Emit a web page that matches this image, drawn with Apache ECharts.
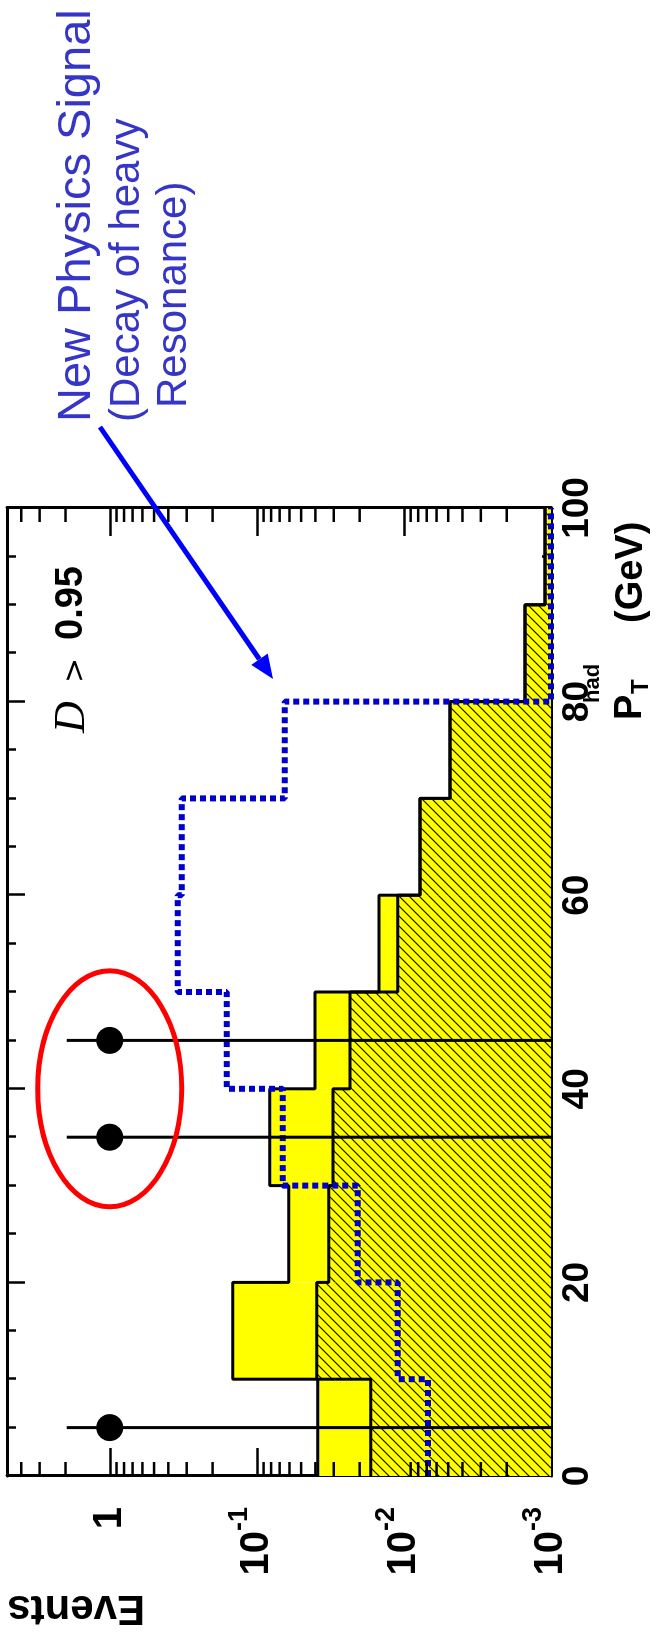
<!DOCTYPE html>
<html>
<head>
<meta charset="utf-8">
<script src="https://cdn.jsdelivr.net/npm/echarts@6/dist/echarts.min.js"></script>
<style>
  html, body { margin: 0; padding: 0; background: #fff; overflow: hidden; width: 663px; height: 1637px; }
  /* The plot is laid out landscape and turned a quarter turn counter-clockwise. */
  #chart { position: absolute; left: 0; top: 0; width: 1637px; height: 663px;
           transform-origin: 0 0; transform: translateY(1637px) rotate(-90deg); }
</style>
</head>
<body>
<div id="chart"></div>
<script>
// P_T^had bins (GeV)
const binEdges = [0, 10, 20, 30, 40, 50, 60, 70, 80, 90, 100];
// total background (solid yellow) per bin
const totalBackground = [0.0385, 0.146, 0.0606, 0.0816, 0.0403, 0.0148, 0.00778, 0.00486, 0.00150, 0.00110];
// hatched background component per bin
const hatchedBackground = [0.0168, 0.0391, 0.0324, 0.0304, 0.0233, 0.0110, 0.00778, 0.00486, 0.00150, 0.00110];
// new physics signal (heavy resonance decay) per bin
const signal = [0.00687, 0.0110, 0.0206, 0.0666, 0.160, 0.345, 0.324, 0.0645, 0, 0];
// observed events
const dataX = [5, 35, 45];
const dataY = [1, 1, 1];
const dataErrHigh = [1.96, 1.96, 1.96];
const dataErrLow = [0, 0, 0];
// centre of the highlighted pair of events
const circledCenter = [40, 1];

const Y_MIN = 0.001, Y_MAX = 5;
const FONT = '"Liberation Sans", Arial, sans-serif';
const floorY = v => Math.max(v, Y_MIN);

// hatch pattern: yellow with thin black diagonals
const hatch = document.createElement('canvas');
hatch.width = 10; hatch.height = 10;
(function () {
  const c = hatch.getContext('2d');
  c.fillStyle = '#ffff00'; c.fillRect(0, 0, 10, 10);
  c.strokeStyle = '#000'; c.lineWidth = 1.1;
  c.beginPath();
  c.moveTo(-2, 12); c.lineTo(12, -2);
  c.moveTo(-2, 2); c.lineTo(2, -2);
  c.moveTo(8, 12); c.lineTo(12, 8);
  c.stroke();
})();

function histFill(values, fill) {
  return {
    type: 'custom', silent: true, clip: false, z: 2,
    data: values.map((v, i) => [binEdges[i], floorY(v), binEdges[i + 1]]),
    renderItem(params, api) {
      const p0 = api.coord([api.value(0), api.value(1)]);
      const p1 = api.coord([api.value(2), Y_MIN]);
      return { type: 'rect',
        shape: { x: p0[0], y: p0[1], width: p1[0] - p0[0], height: p1[1] - p0[1] },
        style: { fill: fill } };
    }
  };
}
function stepData(values) {
  const pts = values.map((v, i) => [binEdges[i], floorY(v)]);
  pts.push([binEdges[binEdges.length - 1], floorY(values[values.length - 1])]);
  return pts;
}
function histOutline(values, lineStyle, z) {
  return { type: 'line', step: 'end', symbol: 'none', silent: true, clip: false, z: z,
    data: stepData(values), lineStyle: lineStyle };
}

// minor decade ticks 2..9 x 10^n for the log axis
const minorLogValues = [];
for (let e = -3; e <= 0; e++) for (let k = 2; k <= 9; k++) {
  const v = k * Math.pow(10, e);
  if (v < Y_MAX) minorLogValues.push(v);
}

const tickLine = { color: '#000', width: 2.5 };
const axisLine = { show: true, onZero: false, lineStyle: { color: '#000', width: 3 } };

function xAxisDef(pos, labels) {
  return { type: 'value', min: 0, max: 100, interval: 20, position: pos,
    axisLine: axisLine,
    axisTick: { show: true, inside: true, length: 18, lineStyle: tickLine },
    minorTick: { show: true, splitNumber: 4, length: 9, lineStyle: tickLine },
    axisLabel: { show: labels, margin: 8, fontSize: 37, fontWeight: 'bold', fontFamily: FONT, color: '#000' },
    splitLine: { show: false }, minorSplitLine: { show: false } };
}
function yAxisDef(pos, labels) {
  return { type: 'log', logBase: 10, min: Y_MIN, max: Y_MAX, position: pos,
    axisLine: axisLine,
    axisTick: { show: true, inside: true, length: 28, lineStyle: tickLine },
    axisLabel: { show: labels, margin: 31,
      formatter: v => {
        const l = Math.log10(v), e = Math.round(l);
        if (Math.abs(l - e) > 1e-6) return '';
        return e === 0 ? '{m|1}' : '{m|10}{s|' + e + '}';
      },
      rich: {
        m: { fontSize: 40, fontWeight: 'bold', fontFamily: FONT, color: '#000', verticalAlign: 'middle' },
        s: { fontSize: 27, fontWeight: 'bold', fontFamily: FONT, color: '#000', padding: [0, 0, 35, 0] }
      } },
    splitLine: { show: false } };
}

function txt(x, y, text, font, fill, extra) {
  return Object.assign({ type: 'text', x: x, y: y, z: 100,
    style: { text: text, font: font, fill: fill || '#000',
      align: 'left', verticalAlign: 'middle', textAlign: 'left', textVerticalAlign: 'middle' } }, extra || {});
}

// arrow from the annotation to the signal peak
const arrowFrom = [1210, 100], arrowTip = [958, 273];
const ad = [arrowTip[0] - arrowFrom[0], arrowTip[1] - arrowFrom[1]];
const al = Math.hypot(ad[0], ad[1]);
const au = [ad[0] / al, ad[1] / al];
const headLen = 24, headHalf = 10;
const headBase = [arrowTip[0] - au[0] * headLen, arrowTip[1] - au[1] * headLen];

const chart = echarts.init(document.getElementById('chart'), null, { renderer: 'canvas' });
chart.setOption({
  animation: false,
  backgroundColor: '#fff',
  grid: { left: 161, top: 7, width: 968, height: 544, containLabel: false, outerBoundsMode: 'none' },
  xAxis: [xAxisDef('bottom', true), xAxisDef('top', false)],
  yAxis: [yAxisDef('left', true), yAxisDef('right', false)],
  series: [
    histFill(totalBackground, '#ffff00'),
    histFill(hatchedBackground, { image: hatch, repeat: 'repeat' }),
    histOutline(totalBackground, { color: '#000', width: 3 }, 4),
    histOutline(hatchedBackground, { color: '#000', width: 3 }, 4),
    histOutline(signal, { color: '#0000cc', width: 6, type: [6, 4], cap: 'butt' }, 6),
    { // error bars of the observed events
      type: 'custom', silent: true, clip: false, z: 7,
      data: dataX.map((x, i) => [x, dataErrHigh[i], floorY(dataErrLow[i])]),
      renderItem(params, api) {
        const a = api.coord([api.value(0), api.value(1)]);
        const b = api.coord([api.value(0), api.value(2)]);
        return { type: 'line', shape: { x1: a[0], y1: a[1], x2: b[0], y2: b[1] },
          style: { stroke: '#000', lineWidth: 3 } };
      }
    },
    { type: 'scatter', silent: true, z: 8, symbol: 'circle', symbolSize: 27,
      itemStyle: { color: '#000', opacity: 1 },
      data: dataX.map((x, i) => [x, dataY[i]]) },
    { // minor ticks of the log axis on both sides
      type: 'custom', silent: true, clip: false, z: 9,
      data: minorLogValues.map(v => [0, v]),
      renderItem(params, api) {
        const a = api.coord([0, api.value(1)]);
        const b = api.coord([100, api.value(1)]);
        const s = { stroke: '#000', lineWidth: 2.5 };
        return { type: 'group', children: [
          { type: 'line', shape: { x1: a[0], y1: a[1], x2: a[0] + 14, y2: a[1] }, style: s },
          { type: 'line', shape: { x1: b[0] - 14, y1: b[1], x2: b[0], y2: b[1] }, style: s }
        ] };
      }
    },
    { // red ring around the two high-P_T events
      type: 'custom', silent: true, clip: false, z: 9,
      data: [circledCenter],
      renderItem(params, api) {
        const c = api.coord([api.value(0), api.value(1)]);
        return { type: 'ellipse', shape: { cx: c[0], cy: c[1], rx: 118, ry: 72 },
          style: { fill: 'none', stroke: '#ff0000', lineWidth: 5 } };
      }
    }
  ],
  graphic: [
    txt(1215, 77, 'New Physics Signal', '47px ' + FONT, '#3535c8'),
    txt(1215, 127, '(Decay of heavy', '42px ' + FONT, '#3535c8'),
    txt(1229, 174, 'Resonance)', '42px ' + FONT, '#3535c8'),
    { type: 'line', z: 100, shape: { x1: arrowFrom[0], y1: arrowFrom[1], x2: headBase[0], y2: headBase[1] },
      style: { stroke: '#0000ff', lineWidth: 5 } },
    { type: 'polygon', z: 100, shape: { points: [
        arrowTip,
        [headBase[0] + au[1] * headHalf, headBase[1] - au[0] * headHalf],
        [headBase[0] - au[1] * headHalf, headBase[1] + au[0] * headHalf]] },
      style: { fill: '#0000ff' } },
    txt(904, 72, 'D', 'italic 44px "Liberation Serif", serif'),
    txt(954, 76, '>', '30px "DejaVu Sans", sans-serif'),
    txt(997, 72, '0.95', 'bold 38px ' + FONT),
    txt(917, 631, 'P', 'bold 38px ' + FONT),
    txt(943, 641, 'T', 'bold 24px ' + FONT),
    txt(934, 593, 'had', 'bold 22px ' + FONT),
    txt(1014, 632, '(GeV)', 'bold 38px ' + FONT),
    txt(29.5, 145, 'Events', 'bold 42px ' + FONT, '#000', { rotation: Math.PI / 2 })
  ]
});
</script>
</body>
</html>
